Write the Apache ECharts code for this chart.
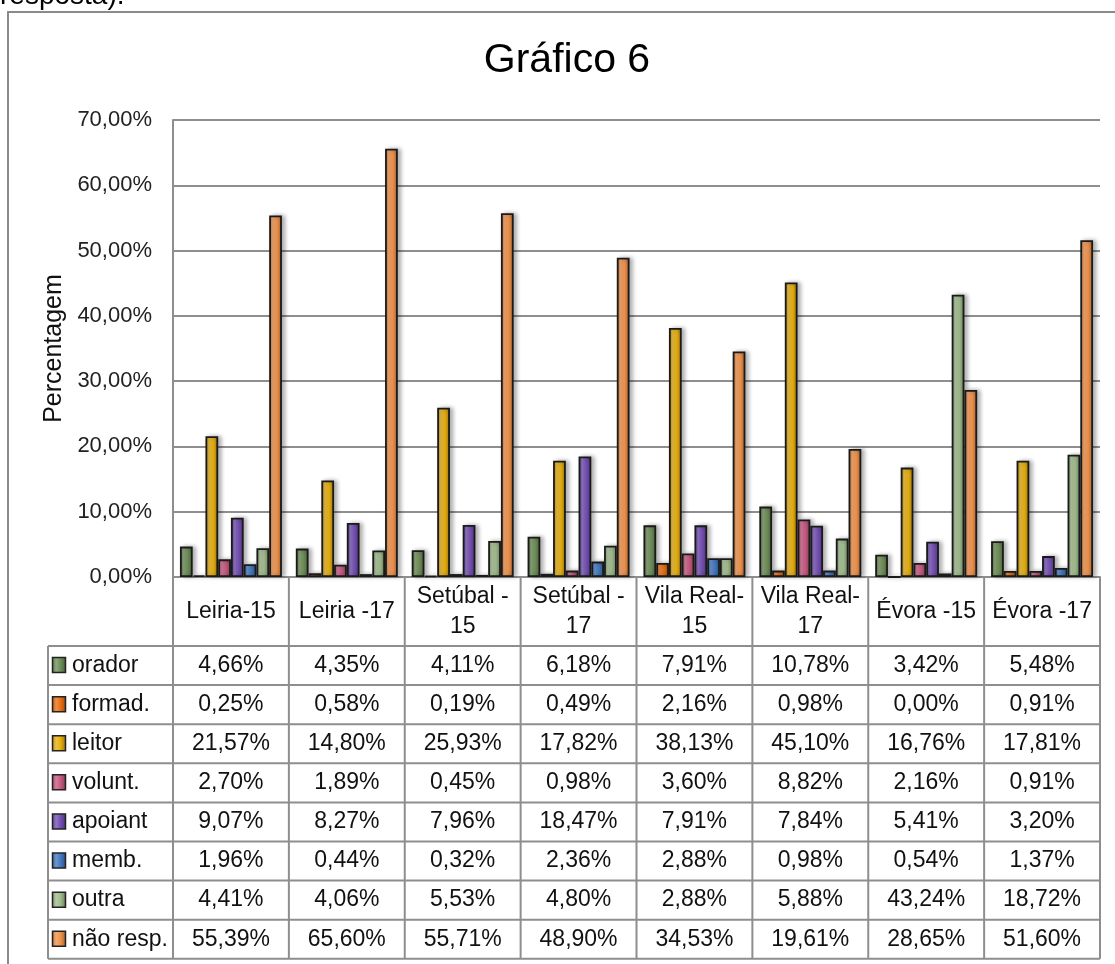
<!DOCTYPE html>
<html>
<head>
<meta charset="utf-8">
<script src="https://cdn.jsdelivr.net/npm/echarts@6/dist/echarts.min.js"></script>
<style>
html,body{margin:0;padding:0;background:#fff;}
#c{width:1115px;height:964px;}
</style>
</head>
<body>
<div id="c"></div>
<script>
// ---- data ----
const categories = ['Leiria-15','Leiria -17','Setúbal -\n15','Setúbal -\n17','Vila Real-\n15','Vila Real-\n17','Évora -15','Évora -17'];
const seriesNames = ['orador','formad.','leitor','volunt.','apoiant','memb.','outra','não resp.'];
const orador   = [4.66, 4.35, 4.11, 6.18, 7.91, 10.78, 3.42, 5.48];
const formad   = [0.25, 0.58, 0.19, 0.49, 2.16, 0.98, 0.00, 0.91];
const leitor   = [21.57, 14.80, 25.93, 17.82, 38.13, 45.10, 16.76, 17.81];
const volunt   = [2.70, 1.89, 0.45, 0.98, 3.60, 8.82, 2.16, 0.91];
const apoiant  = [9.07, 8.27, 7.96, 18.47, 7.91, 7.84, 5.41, 3.20];
const memb     = [1.96, 0.44, 0.32, 2.36, 2.88, 0.98, 0.54, 1.37];
const outra    = [4.41, 4.06, 5.53, 4.80, 2.88, 5.88, 43.24, 18.72];
const naoResp  = [55.39, 65.60, 55.71, 48.90, 34.53, 19.61, 28.65, 51.60];
const seriesData = [orador, formad, leitor, volunt, apoiant, memb, outra, naoResp];
const yMin = 0, yMax = 70, yInterval = 10;

// ---- styles ----
const colors = ['#6f8f58','#ec7012','#e8b010','#c85a82','#7550b5','#4479c2','#a0bc8c','#f2934c'];
const FONT = "'Liberation Sans', Arial, sans-serif";
const LINE = '#8e8e8e';

function mix(hex, t){ // t>0 lighten, t<0 darken
  const n = parseInt(hex.slice(1),16);
  let r=(n>>16)&255,g=(n>>8)&255,b=n&255;
  const f=(c)=> t>=0 ? Math.round(c+(255-c)*t) : Math.round(c*(1+t));
  return 'rgb('+f(r)+','+f(g)+','+f(b)+')';
}
function grad(hex){
  return new echarts.graphic.LinearGradient(0,0,1,0,[
    {offset:0,color:mix(hex,-0.25)},
    {offset:0.3,color:mix(hex,0.22)},
    {offset:0.6,color:hex},
    {offset:1,color:mix(hex,-0.35)}
  ]);
}
const fmt = v => v.toFixed(2).replace('.',',') + '%';

// ---- layout ----
const GL = 173, GR = 1100, GT = 120, G0 = 577;
const HEAD_B = 646, ROW_H = 39.1, TAB_L = 48;
const W = 1115, H = 964;
const colW = (GR-GL)/categories.length;

const graphics = [];
// outer frame
graphics.push({type:'rect', shape:{x:8,y:12,width:1200,height:1100}, style:{fill:null,stroke:'#8a8a8a',lineWidth:2}, silent:true});
// cut-off text above frame
graphics.push({type:'text', x:0, y:10, style:{text:'resposta).', font:'28px '+FONT, fill:'#000', textVerticalAlign:'bottom'}, silent:true});
// title
graphics.push({type:'text', x:567, y:61, style:{text:'Gráfico 6', font:'41px '+FONT, fill:'#000', textAlign:'center', textVerticalAlign:'middle'}, silent:true});
// table horizontal lines
const tabBottom = HEAD_B + ROW_H*seriesNames.length;
for(let i=0;i<=seriesNames.length;i++){
  const y = HEAD_B + ROW_H*i;
  graphics.push({type:'line', shape:{x1:TAB_L,y1:y,x2:GR,y2:y}, style:{stroke:LINE,lineWidth:2}, z:10, silent:true});
}
// table vertical lines
for(let k=0;k<=categories.length;k++){
  const x = GL + colW*k;
  graphics.push({type:'line', shape:{x1:x,y1:G0,x2:x,y2:tabBottom}, style:{stroke:LINE,lineWidth:2}, z:10, silent:true});
}
graphics.push({type:'line', shape:{x1:TAB_L,y1:HEAD_B,x2:TAB_L,y2:tabBottom}, style:{stroke:LINE,lineWidth:2}, z:10, silent:true});
// rows
seriesNames.forEach((name,i)=>{
  const cy = HEAD_B + ROW_H*(i+0.5);
  graphics.push({type:'rect', shape:{x:52.5,y:cy-8,width:13,height:15}, style:{fill:grad(colors[i]),stroke:'#222',lineWidth:1.5}, z:11, silent:true});
  graphics.push({type:'text', x:72, y:cy, style:{text:name, font:'23px '+FONT, fill:'#111', textVerticalAlign:'middle'}, z:11, silent:true});
  seriesData[i].forEach((v,k)=>{
    graphics.push({type:'text', x:GL+colW*(k+0.5), y:cy, style:{text:fmt(v), font:'23px '+FONT, fill:'#111', textAlign:'center', textVerticalAlign:'middle'}, z:11, silent:true});
  });
});

const chart = echarts.init(document.getElementById('c'), null, {renderer:'canvas'});
chart.setOption({
  animation:false,
  backgroundColor:'#fff',
  grid:{left:GL, right:W-GR, top:GT, bottom:H-G0},
  xAxis:{
    type:'category', data:categories,
    axisLine:{show:true, lineStyle:{color:LINE,width:2}},
    axisTick:{show:false},
    axisLabel:{margin:35, verticalAlign:'middle', lineHeight:30, fontSize:23, fontFamily:FONT, color:'#111', interval:0}
  },
  yAxis:{
    type:'value', min:yMin, max:yMax, interval:yInterval,
    name:'Percentagem', nameLocation:'middle', nameRotate:90, nameGap:106,
    nameTextStyle:{fontSize:25, fontFamily:FONT, color:'#111'},
    axisLine:{show:true, lineStyle:{color:LINE,width:2}},
    axisTick:{show:false},
    axisLabel:{margin:21, fontSize:22, fontFamily:FONT, color:'#222', formatter:fmt},
    splitLine:{lineStyle:{color:LINE,width:2}}
  },
  series: seriesNames.map((n,i)=>({
    name:n, type:'bar', data:seriesData[i],
    barGap:'0%', barCategoryGap:'12%',
    itemStyle:{color:grad(colors[i]), borderColor:'#1a1a1a', borderWidth:1.8,
      shadowColor:'rgba(0,0,0,0.3)', shadowBlur:4, shadowOffsetX:3, shadowOffsetY:0}
  })),
  graphic:graphics
});
</script>
</body>
</html>
